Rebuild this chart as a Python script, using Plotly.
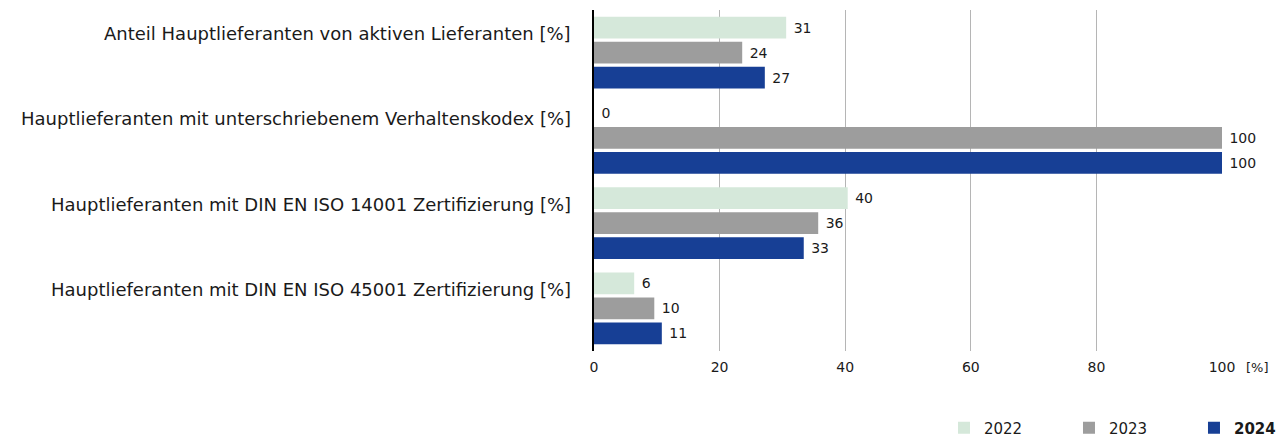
import plotly.graph_objects as go

categories = [
    "Anteil Hauptlieferanten von aktiven Lieferanten [%]",
    "Hauptlieferanten mit unterschriebenem Verhaltenskodex [%]",
    "Hauptlieferanten mit DIN EN ISO 14001 Zertifizierung [%]",
    "Hauptlieferanten mit DIN EN ISO 45001 Zertifizierung [%]",
]
years = ["2022", "2023", "2024"]
values_2022 = [30.6, 0, 40.4, 6.4]
values_2023 = [23.6, 100, 35.7, 9.6]
values_2024 = [27.2, 100, 33.4, 10.8]
labels_2022 = ["31", "0", "40", "6"]
labels_2023 = ["24", "100", "36", "10"]
labels_2024 = ["27", "100", "33", "11"]
x_ticks = [0, 20, 40, 60, 80, 100]

colors = ["#d5e8da", "#9d9d9d", "#173f95"]
series = [values_2022, values_2023, values_2024]
labels = [labels_2022, labels_2023, labels_2024]
names = ["2022", "2023", "<b>2024</b>"]

FONT = "DejaVu Sans"
TXT = "#1a1a1a"
fig = go.Figure()
for name, vals, lab, col in zip(names, series, labels, colors):
    fig.add_trace(go.Bar(
        y=categories, x=vals, orientation="h", name=name,
        marker=dict(color=col, line=dict(width=0)),
        text=lab, texttemplate="\u00a0%{text}", textposition="outside", textangle=0,
        textfont=dict(family=FONT, size=14, color=TXT),
        cliponaxis=False,
    ))

annotations = [
    dict(text=c, x=0, y=c, xref="paper", yref="y", xanchor="right", yanchor="middle",
         xshift=-21, yshift=19, showarrow=False, font=dict(family=FONT, size=18, color=TXT))
    for c in categories
]
annotations.append(dict(text="[%]", x=1.057, y=-0.047, xref="paper", yref="paper", showarrow=False,
                        xanchor="center", yanchor="middle", font=dict(family=FONT, size=13, color=TXT)))

fig.update_layout(
    width=1281, height=438,
    margin=dict(l=594, r=59, t=10, b=87, autoexpand=False),
    plot_bgcolor="white", paper_bgcolor="white",
    barmode="group", bargap=0.12, bargroupgap=0.13,
    font=dict(family=FONT, size=14, color=TXT),
    showlegend=True,
    legend=dict(orientation="h", x=0.5573, xanchor="left", y=-0.226, yanchor="middle",
                traceorder="normal", entrywidth=80, entrywidthmode="pixels",
                itemwidth=30,
                font=dict(family=FONT, size=15, color=TXT),
                itemclick=False),
    xaxis=dict(range=[0, 100], tickvals=x_ticks, showgrid=True, gridcolor="#b5b5b5",
               gridwidth=1, zeroline=False, showline=False, ticks="",
               ticklabelstandoff=6,
               tickfont=dict(family=FONT, size=14, color=TXT)),
    yaxis=dict(autorange="reversed", showline=True, linecolor="#000000", linewidth=1.5,
               ticks="", showticklabels=False, showgrid=False),
    annotations=annotations,
)
fig.write_html("out.html", config={"displayModeBar": False},
               post_script="document.body.style.margin='0';")
